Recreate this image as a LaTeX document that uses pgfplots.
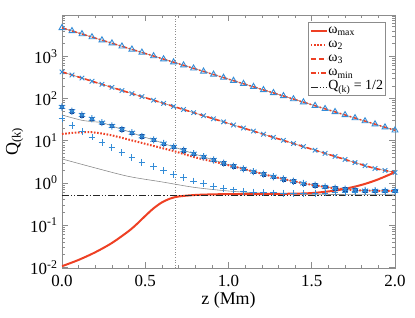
\documentclass[border=0pt]{standalone}
\usepackage{fontspec}
\setmainfont{Liberation Serif}
\usepackage{pgfplots}
\pgfplotsset{compat=1.18}
\usepackage{pgfplotstable}
\definecolor{wred}{RGB}{238,64,36}
\definecolor{mblue}{RGB}{52,140,215}
\definecolor{dblue}{RGB}{20,60,140}
\definecolor{axgray}{RGB}{140,140,140}

\pgfplotstableread{
z tri cro sta plu dot gup
0.00 4710 427 63.1 33.1 14.5 40.8
0.06 3981 361 50.1 23.4 15.3 35.0
0.12 3365 305 40.7 16.8 15.9 30.5
0.18 2851 257 33.1 12.3 15.9 28.4
0.24 2410 217 26.9 9.12 14.9 26.9
0.30 2037 184 22.4 6.84 13.4 22.4
0.36 1722 155 18.6 5.19 11.7 18.6
0.42 1459 131 15.5 3.98 10.2 15.5
0.48 1233 111 12.7 3.09 8.87 12.7
0.55 1014 91.0 10.5 2.43 7.53 10.5
0.61 857 76.9 8.61 1.95 6.57 8.61
0.67 725 65.0 7.16 1.58 5.73 7.16
0.73 614 54.8 5.96 1.32 4.87 5.96
0.79 519 46.4 4.95 1.11 4.13 4.95
0.85 439 39.2 4.17 0.955 3.61 4.17
0.91 371 33.1 3.51 0.841 3.23 3.51
0.97 313 28.0 2.95 0.750 2.82 2.95
1.03 265 23.6 2.51 0.684 2.46 2.51
1.09 224 20.0 2.16 0.638 2.15 2.16
1.15 190 16.9 1.86 0.610 1.86 1.86
1.21 160 14.3 1.62 0.592 1.62 1.62
1.27 136 12.0 1.41 0.582 1.41 1.41
1.33 115 10.2 1.24 0.575 1.24 1.24
1.39 97.1 8.59 1.10 0.572 1.10 1.10
1.45 82.0 7.26 0.977 0.572 0.977 0.977
1.52 67.5 5.97 0.881 0.574 0.881 0.881
1.58 57.0 5.04 0.804 0.578 0.804 0.804
1.64 48.3 4.26 0.750 0.586 0.750 0.750
1.70 40.8 3.60 0.708 0.598 0.708 0.708
1.76 34.5 3.04 0.676 0.610 0.676 0.676
1.82 29.2 2.57 0.661 0.622 0.661 0.661
1.88 24.7 2.20 0.653 0.633 0.653 0.653
1.94 20.9 1.98 0.646 0.641 0.646 0.646
2.00 17.7 1.78 0.646 0.646 0.646 0.646
}\main

\pgfplotstableread{
z q
0.0 3.71
0.2 2.27
0.4 1.43
0.6 1.06
0.8 0.782
1.0 0.646
1.2 0.575
1.4 0.545
1.6 0.535
1.8 0.53
2.0 0.53
}\glow

\pgfplotstableread{
z q
0.00 0.0107
0.10 0.0151
0.20 0.0229
0.30 0.0380
0.40 0.0724
0.45 0.107
0.50 0.166
0.55 0.251
0.60 0.347
0.65 0.427
0.70 0.479
0.80 0.520
0.90 0.537
1.00 0.545
1.25 0.550
1.45 0.565
1.55 0.600
1.67 0.690
1.79 0.880
1.89 1.18
2.00 1.80
}\wmax

\begin{document}
\begin{tikzpicture}
\useasboundingbox (-62bp,-50bp) rectangle (353bp,268bp);
\begin{axis}[
  at={(0,0)}, anchor=south west,
  width=333bp, height=253bp, scale only axis,
  xmin=0, xmax=2, ymode=log, ymin=0.0097, ymax=9500,
  xtick={0,0.5,1,1.5,2}, xticklabels={0.0,0.5,1.0,1.5,2.0},
  minor x tick num=4,
  ytick={0.01,0.1,1,10,100,1000},
  yticklabels={10\textsuperscript{-2},10\textsuperscript{-1},10\textsuperscript{0},10\textsuperscript{1},10\textsuperscript{2},10\textsuperscript{3}},
  minor ytick={0.02,0.03,0.04,0.05,0.06,0.07,0.08,0.09,0.2,0.3,0.4,0.5,0.6,0.7,0.8,0.9,2,3,4,5,6,7,8,9,20,30,40,50,60,70,80,90,200,300,400,500,600,700,800,900,2000,3000,4000,5000,6000,7000,8000,9000},
  tick align=inside,
  axis line style={axgray, line width=0.8bp},
  tick style={axgray, line width=0.6bp},
  major tick length=6bp, minor tick length=3.5bp,
  tick label style={font=\fontsize{17}{17}\selectfont},
  xticklabel style={yshift=-4bp},
  yticklabel style={xshift=-1bp},
  xlabel={z (Mm)}, ylabel={Q\textsubscript{(k)}},
  label style={font=\fontsize{18}{18}\selectfont},
  xlabel style={yshift=2bp},
  legend style={at={(0.97,0.972)}, anchor=north east, draw=axgray, line width=0.6bp,
    font=\fontsize{14}{14}\selectfont, inner sep=1.5bp, outer sep=0pt,
    nodes={inner sep=0.5bp, text height=9.5bp, text depth=3.6bp}},
  legend cell align=left,
  legend image code/.code={\draw[#1] (3bp,0bp) -- (19bp,0bp);},
]
% lower gray line (under markers)
\addplot[axgray, line width=0.6bp, smooth, forget plot] table[x=z,y=q]{\glow};
\addplot[axgray, line width=0.6bp, smooth, forget plot] table[x=z,y=gup]{\main};
% markers
\addplot[only marks, mark=triangle, mark size=3.4bp, mblue, line width=0.9bp, forget plot] table[x=z,y=tri]{\main};
\addplot[only marks, mark=x, mark size=3.2bp, mblue, line width=0.9bp, forget plot] table[x=z,y=cro]{\main};
\addplot[only marks, mark=square*, mark size=1.7bp, dblue, forget plot] table[x=z,y=sta]{\main};
\addplot[only marks, mark=asterisk, mark size=3.6bp, mblue, line width=1bp, forget plot] table[x=z,y=sta]{\main};
\addplot[only marks, mark=+, mark size=3.4bp, mblue, line width=0.9bp, forget plot] table[x=z,y=plu]{\main};
% gray lines over markers
\addplot[axgray, line width=0.6bp, forget plot] table[x=z,y=tri]{\main};
\addplot[axgray, line width=0.6bp, forget plot] table[x=z,y=cro]{\main};
% vertical dotted line
\addplot[axgray, dotted, line width=0.6bp, forget plot] coordinates {(0.68,0.0097) (0.68,9500)};
% red lines
\addplot[wred, line width=2bp, smooth] table[x=z,y=q]{\wmax};
\addlegendentry{ω\textsubscript{max}}
\addplot[wred, line width=2bp, dash pattern=on 1.6bp off 1.6bp] table[x=z,y=dot]{\main};
\addlegendentry{ω\textsubscript{2}}
\addplot[wred, line width=1.6bp, dash pattern=on 5bp off 3bp] table[x=z,y=cro]{\main};
\addlegendentry{ω\textsubscript{3}}
\addplot[wred, line width=1.5bp, dash pattern=on 5bp off 2bp on 1.5bp off 2bp] table[x=z,y=tri]{\main};
\addlegendentry{ω\textsubscript{min}}
\addplot[black!85, line width=0.9bp, dash pattern=on 7bp off 2bp on 1.2bp off 2bp on 1.2bp off 2bp] coordinates {(0,0.5) (2,0.5)};
\addlegendentry{Q\textsubscript{(k)} = 1/2}
\end{axis}
\end{tikzpicture}
\end{document}
